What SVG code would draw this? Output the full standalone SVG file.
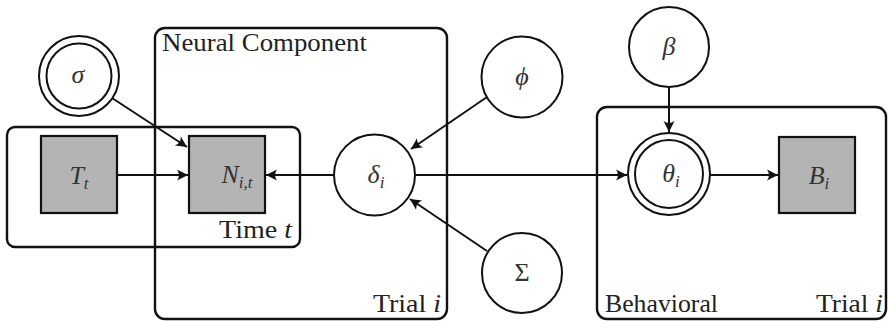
<svg xmlns="http://www.w3.org/2000/svg" width="888" height="321" viewBox="0 0 888 321">
  <style>
    .plate { fill: none; stroke: #111; stroke-width: 2.4; }
    .var { fill: #fff; stroke: #111; stroke-width: 2; }
    .obs { fill: #b4b4b4; stroke: #111; stroke-width: 2.2; }
    .edge { fill: none; stroke: #111; stroke-width: 2; marker-end: url(#tip); }
    .lbl { font-family: 'Liberation Serif', serif; font-size: 25px; fill: #222; }
    .math { font-family: 'Liberation Serif', serif; font-style: italic; font-size: 26px; fill: #333; text-anchor: middle; }
    .upright { font-style: normal; }
    .sub { font-size: 17px; }
  </style>
  <defs>
    <marker id="tip" viewBox="-12 -6 14 12" refX="0" refY="0" markerWidth="14" markerHeight="12" markerUnits="userSpaceOnUse" orient="auto">
      <path d="M0,0 L-11,-5.5 Q-7,0 -11,5.5 Z" fill="#111"/>
    </marker>
  </defs>

  <!-- plates -->
  <g id="plate-neural">
    <rect class="plate" x="155" y="28" width="292" height="291" rx="10"/>
    <text class="lbl" x="162" y="51" textLength="205" lengthAdjust="spacingAndGlyphs">Neural Component</text>
    <text class="lbl" x="373" y="312" textLength="68" lengthAdjust="spacingAndGlyphs">Trial <tspan font-style="italic">i</tspan></text>
  </g>
  <g id="plate-time">
    <rect class="plate" x="7" y="127" width="293" height="120" rx="8"/>
    <text class="lbl" x="219" y="238" textLength="73" lengthAdjust="spacingAndGlyphs">Time <tspan font-style="italic">t</tspan></text>
  </g>
  <g id="plate-behavioral">
    <rect class="plate" x="597" y="107" width="289" height="212" rx="10"/>
    <text class="lbl" x="605" y="312" textLength="113" lengthAdjust="spacingAndGlyphs">Behavioral</text>
    <text class="lbl" x="816" y="312" textLength="67" lengthAdjust="spacingAndGlyphs">Trial <tspan font-style="italic">i</tspan></text>
  </g>

  <!-- connectors -->
  <g id="edges">
    <line class="edge" x1="112" y1="98" x2="187" y2="147"/>
    <line class="edge" x1="117" y1="175" x2="188" y2="175"/>
    <line class="edge" x1="334" y1="175" x2="266" y2="175"/>
    <line class="edge" x1="487" y1="97" x2="411" y2="149"/>
    <line class="edge" x1="487" y1="251" x2="410" y2="199"/>
    <line class="edge" x1="415" y1="175" x2="627" y2="175"/>
    <line class="edge" x1="669" y1="87" x2="669" y2="132"/>
    <line class="edge" x1="710" y1="175" x2="778" y2="175"/>
  </g>

  <!-- nodes -->
  <g id="sigma">
    <circle class="var" cx="79" cy="76" r="40"/>
    <circle class="var" cx="79" cy="76" r="32.5"/>
    <text class="math" x="78" y="83">σ</text>
  </g>
  <g id="T">
    <rect class="obs" x="41" y="136" width="76" height="77"/>
    <text class="math" x="79" y="184">T<tspan class="sub" dy="5">t</tspan></text>
  </g>
  <g id="N">
    <rect class="obs" x="189" y="136" width="76" height="77"/>
    <text class="math" x="237" y="183">N<tspan class="sub" dy="5">i,t</tspan></text>
  </g>
  <g id="delta">
    <circle class="var" cx="374.5" cy="175" r="40.5"/>
    <text class="math" x="376" y="183">δ<tspan class="sub" dy="5">i</tspan></text>
  </g>
  <g id="phi">
    <circle class="var" cx="522" cy="77" r="40.5"/>
    <text class="math" x="522" y="85">ϕ</text>
  </g>
  <g id="Sigma">
    <circle class="var" cx="522" cy="273" r="40"/>
    <text class="math upright" x="522" y="281">Σ</text>
  </g>
  <g id="beta">
    <circle class="var" cx="669" cy="47" r="40"/>
    <text class="math" x="669" y="55">β</text>
  </g>
  <g id="theta">
    <circle class="var" cx="669" cy="174" r="41"/>
    <circle class="var" cx="669" cy="174" r="34"/>
    <text class="math" x="671" y="182">θ<tspan class="sub" dy="5">i</tspan></text>
  </g>
  <g id="B">
    <rect class="obs" x="779" y="137" width="76" height="76"/>
    <text class="math" x="819" y="184">B<tspan class="sub" dy="5">i</tspan></text>
  </g>
</svg>
